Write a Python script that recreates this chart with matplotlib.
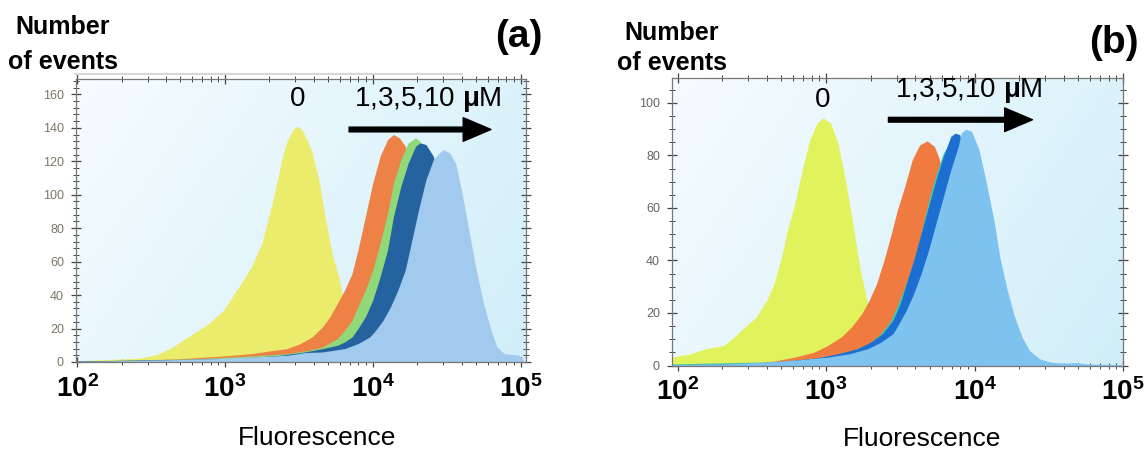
import numpy as np
import matplotlib.pyplot as plt
from matplotlib.ticker import FixedLocator, MultipleLocator, LogLocator, FuncFormatter, NullFormatter
from matplotlib.lines import Line2D

plt.rcParams['font.family'] = ['Liberation Sans', 'DejaVu Sans']
plt.rcParams['mathtext.fontset'] = 'custom'
plt.rcParams['mathtext.bf'] = 'Liberation Sans:bold'
plt.rcParams['mathtext.rm'] = 'Liberation Sans'

# --- dane (log10 fluorescencji, liczba zdarzeń) ---
# panel (a)
a0_log = [2.00, 2.22, 2.41, 2.53, 2.63, 2.75, 2.89, 2.99, 3.08, 3.18, 3.25, 3.32, 3.39,
          3.42, 3.46, 3.49, 3.52, 3.56, 3.59, 3.64, 3.68, 3.73, 3.77, 3.83, 3.90, 4.02, 4.14]
a0_n = [0.8, 1.6, 2.2, 4.2, 8.2, 15, 23, 31, 43, 57, 71, 95, 123,
        132, 139, 141, 139, 132, 125, 107, 85, 63, 51, 23, 7, 1, 0]
a1_log = [2.00, 2.46, 2.70, 2.99, 3.18, 3.30, 3.42, 3.51, 3.59, 3.66, 3.71, 3.76, 3.81, 3.86,
          3.90, 3.95, 4.00, 4.05, 4.10, 4.14, 4.18, 4.22, 4.29, 4.36, 4.43, 4.53, 4.62, 4.74]
a1_n = [0.6, 1.2, 2, 3.6, 5, 6.6, 8, 11, 15, 21, 27, 35, 43, 53,
        67, 87, 107, 123, 133, 136, 134, 129, 109, 79, 45, 15, 3, 0]
a3_log = [2.00, 2.82, 3.18, 3.42, 3.57, 3.66, 3.76, 3.81, 3.86, 3.90, 3.95, 4.00, 4.05,
          4.10, 4.14, 4.19, 4.24, 4.29, 4.32, 4.41, 4.50, 4.60, 4.69, 4.79, 4.86]
a3_n = [0.6, 2, 3.6, 5, 7, 9, 14, 19, 25, 33, 43, 55, 71,
        89, 107, 121, 131, 134, 132, 109, 71, 35, 9, 1, 0]
a5_log = [2.00, 3.06, 3.37, 3.54, 3.66, 3.76, 3.81, 3.86, 3.90, 3.95, 4.00, 4.05, 4.10,
          4.14, 4.19, 4.24, 4.29, 4.32, 4.36, 4.41, 4.48, 4.58, 4.67, 4.77, 4.86]
a5_n = [0.6, 2, 4, 6, 8, 10, 12, 15, 20, 27, 37, 51, 67,
        87, 105, 119, 129, 131, 130, 123, 95, 55, 19, 3, 0]
a10_log = [2.00, 2.46, 2.94, 3.18, 3.42, 3.54, 3.66, 3.81, 3.90, 3.98, 4.02, 4.07, 4.12,
           4.17, 4.22, 4.26, 4.31, 4.36, 4.41, 4.45, 4.48, 4.52, 4.56, 4.60, 4.65, 4.70,
           4.75, 4.80, 4.84, 4.89, 4.94, 4.99, 5.02]
a10_n = [0.4, 1, 2, 3, 4, 5.6, 6, 8, 11, 15, 19, 25, 33,
         43, 55, 71, 91, 109, 121, 125, 127, 125, 119, 103, 79, 55,
         35, 19, 9, 5, 4.6, 4, 1]

# panel (b)
b0_log = [1.96, 2.09, 2.19, 2.31, 2.38, 2.45, 2.53, 2.60, 2.65, 2.70, 2.74, 2.79, 2.84,
          2.89, 2.94, 2.98, 3.03, 3.08, 3.13, 3.18, 3.23, 3.27, 3.33, 3.40, 3.50, 3.67]
b0_n = [3.2, 4.5, 6.4, 7.6, 10.8, 14.6, 18.5, 24.8, 31.2, 41.4, 51.6, 61.8, 74.5,
        86, 92.4, 94.3, 92.4, 84.7, 70.7, 54.1, 36.3, 26.1, 10.8, 3.2, 0.6, 0]
b1_log = [1.96, 2.46, 2.65, 2.79, 2.92, 3.01, 3.10, 3.17, 3.24, 3.29, 3.34, 3.39, 3.44,
          3.48, 3.53, 3.58, 3.63, 3.68, 3.73, 3.76, 3.84, 3.93, 4.03, 4.13, 4.22]
b1_n = [0.3, 0.6, 1.7, 3.2, 5.1, 7.6, 10.8, 14.6, 19.7, 24.8, 31.2, 40.1, 50.3,
        59.2, 68.2, 78.3, 84, 85.6, 83.4, 79, 61.8, 36.3, 13.4, 1.9, 0]
b3_log = [1.96, 2.70, 2.92, 3.07, 3.19, 3.29, 3.36, 3.43, 3.48, 3.53, 3.58, 3.63,
          3.67, 3.71, 3.75, 3.79, 3.84, 3.89, 3.97, 4.07, 4.16, 4.26, 4.37]
b3_n = [0.6, 1.5, 2.7, 4.2, 6, 8.5, 11.7, 16.6, 22.9, 29.9, 38.2, 47.8,
        58, 66.9, 74.5, 80.9, 85.4, 83.4, 64.3, 37.6, 14.6, 2.5, 0]
b5_log = [1.96, 2.46, 2.72, 2.94, 3.08, 3.21, 3.30, 3.38, 3.45, 3.50, 3.54, 3.59,
          3.64, 3.69, 3.74, 3.79, 3.84, 3.87, 3.90, 3.98, 4.08, 4.17, 4.27, 4.39]
b5_n = [0.3, 0.6, 1.7, 2.9, 4.5, 6.4, 8.9, 12.1, 17.2, 23.6, 31.2, 40.1,
        50.3, 60.5, 70.7, 79.6, 87.3, 88.5, 87.9, 68, 41.4, 17.2, 3.2, 0]
b10_log = [1.96, 2.33, 2.58, 2.82, 3.01, 3.16, 3.28, 3.37, 3.45, 3.49, 3.54, 3.59,
           3.64, 3.69, 3.74, 3.79, 3.84, 3.89, 3.91, 3.94, 3.98, 4.03, 4.08, 4.13,
           4.17, 4.22, 4.27, 4.32, 4.37, 4.44, 4.51, 4.61, 4.68, 4.76, 4.99]
b10_n = [0.3, 0.6, 1.3, 2.2, 3.2, 4.5, 6.4, 8.9, 12.1, 15.9, 21, 27.4,
         35, 43.9, 54.1, 64.3, 74.5, 83.4, 88.5, 90, 89.2, 82.2, 69.4, 55.4,
         41.4, 28.7, 18.5, 10.8, 5.7, 2.5, 1.3, 0.9, 1.1, 0.6, 0.3]

# etykiety i strzałki (log10 x, y)
a_label0 = (3.49, 157)
a_label_conc = (4.37, 157)
a_arrow = (3.84, 4.80, 139)
b_label0 = (2.98, 101)
b_label_conc = (3.96, 104.8)
b_arrow = (3.42, 4.39, 93.6)

kolory_a = ['#ecec6c', '#ee8246', '#90d878', '#2563a0', '#a2caee']
kolory_b = ['#e0f25c', '#ef7b40', '#40c8a8', '#1c6fd0', '#7ec2f0']

W, H = 1148, 450
fig = plt.figure(figsize=(W / 100, H / 100), dpi=100)


def rysuj_panel(rect, krzywe, kolory, xlim, ylim, ystep, yminor, ycol, lab0, labc, strz):
    ax = fig.add_axes(rect)
    # tło z gradientem
    gx, gy = np.meshgrid(np.linspace(0, 1, 200), np.linspace(0, 1, 100))
    t = 0.7 * gx + 0.3 * (1 - gy)
    c0 = np.array([0.965, 0.988, 1.0])
    c1 = np.array([0.82, 0.935, 0.975])
    img = c0 + t[..., None] * (c1 - c0)
    ax.imshow(img, extent=[0, 1, 0, 1], transform=ax.transAxes, aspect='auto',
              origin='lower', zorder=0)
    for i, ((lx, n), c) in enumerate(zip(krzywe, kolory)):
        ax.fill_between(10 ** np.array(lx), 0, n, color=c, lw=0, zorder=2 + i)
    ax.set_xscale('log')
    ax.set_xlim(10 ** xlim[0], 10 ** xlim[1])
    ax.set_ylim(*ylim)
    ax.xaxis.set_major_locator(FixedLocator([1e2, 1e3, 1e4, 1e5]))
    ax.xaxis.set_minor_locator(LogLocator(base=10, subs=np.arange(2, 10)))
    ax.xaxis.set_minor_formatter(NullFormatter())
    ax.xaxis.set_major_formatter(FuncFormatter(
        lambda v, p: r'$\mathbf{10^{%d}}$' % round(np.log10(v))))
    ax.yaxis.set_major_locator(MultipleLocator(ystep))
    ax.yaxis.set_minor_locator(MultipleLocator(yminor))
    ax.tick_params(which='both', direction='inout', top=True, right=True, color='#444444')
    ax.tick_params(which='major', length=7, width=0.9)
    ax.tick_params(which='minor', length=4, width=0.7)
    ax.tick_params(axis='x', which='major', labelsize=20, pad=6, labelcolor='black')
    ax.tick_params(axis='y', which='major', labelsize=9, pad=5, labelcolor=ycol)
    for s in ax.spines.values():
        s.set_color('#777777')
        s.set_linewidth(0.9)
        s.set_zorder(20)
    ax.text(10 ** lab0[0], lab0[1], '0', fontsize=20, ha='center', va='center', zorder=30)
    ax.text(10 ** labc[0], labc[1], r'1,3,5,10 $\mathbf{\mu}$M', fontsize=20,
            ha='center', va='center', zorder=30)
    ax.annotate('', xy=(10 ** strz[1], strz[2]), xytext=(10 ** strz[0], strz[2]),
                arrowprops=dict(arrowstyle='simple,head_length=1.0,head_width=0.85,tail_width=0.17',
                                color='black', shrinkA=0, shrinkB=0, mutation_scale=20),
                zorder=30)
    ax.set_xlabel('Fluorescence', fontsize=19)
    return ax


ax_a = rysuj_panel([75.7 / W, 1 - 362 / H, 450.3 / W, 282.7 / H],
                   [(a0_log, a0_n), (a1_log, a1_n), (a3_log, a3_n), (a5_log, a5_n), (a10_log, a10_n)],
                   kolory_a, (1.99, 5.037), (0, 169), 20, 4, '#7d7566',
                   a_label0, a_label_conc, a_arrow)
ax_a.xaxis.set_label_coords(0.536, -0.225)

ax_b = rysuj_panel([671.7 / W, 1 - 365.5 / H, 451.3 / W, 287.5 / H],
                   [(b0_log, b0_n), (b1_log, b1_n), (b3_log, b3_n), (b5_log, b5_n), (b10_log, b10_n)],
                   kolory_b, (1.96, 5.0), (0, 109.5), 20, 5, '#666666',
                   b_label0, b_label_conc, b_arrow)
ax_b.xaxis.set_label_coords(0.555, -0.215)

# opisy osi Y i litery paneli
for x0, y1, y2 in [(63, 34, 69), (672, 40, 70)]:
    fig.text(x0 / W, 1 - y1 / H, 'Number', fontsize=18, weight='bold', ha='center', va='baseline')
    fig.text(x0 / W, 1 - y2 / H, 'of events', fontsize=18, weight='bold', ha='center', va='baseline')
fig.text(519 / W, 1 - 37 / H, '(a)', fontsize=28, weight='bold', ha='center', va='center')
fig.text(1114 / W, 1 - 43 / H, '(b)', fontsize=28, weight='bold', ha='center', va='center')

# cienka szara linia nad panelem (a)
fig.add_artist(Line2D([75 / W, 462 / W], [1 - 74 / H, 1 - 74 / H], color='#d8d8d8', lw=1.5))

fig.savefig('out.png', dpi=100)
